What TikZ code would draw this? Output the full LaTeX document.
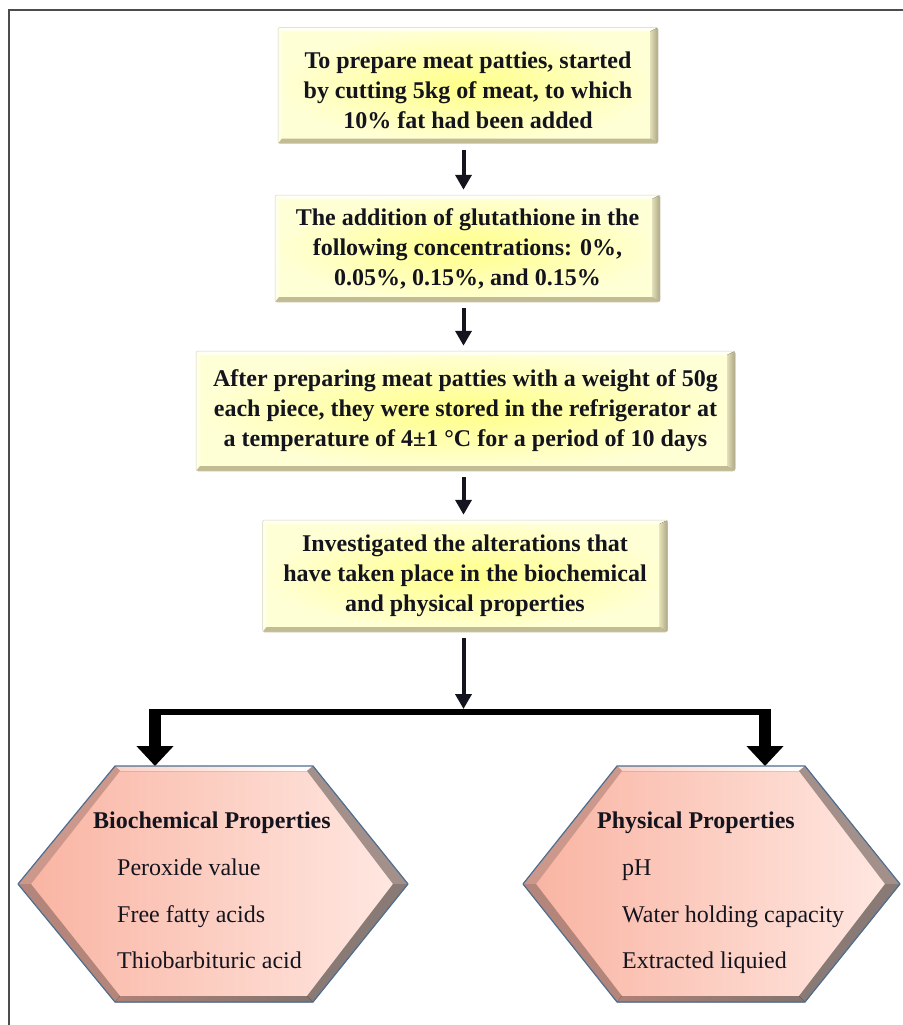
\documentclass[tikz,border=0pt]{standalone}
\usepackage{fontspec}
\setmainfont{Liberation Serif}
\usetikzlibrary{arrows.meta,calc}

\definecolor{txt}{HTML}{14141E}
\definecolor{yin}{HTML}{FFFF88}
\definecolor{yout}{HTML}{FFFFD6}
\definecolor{ybevR}{HTML}{ADA683}
\definecolor{ybevB}{HTML}{C2BC95}
\definecolor{ybevT}{HTML}{FFFFF2}
\definecolor{hexL}{HTML}{F9B3A1}
\definecolor{hexR}{HTML}{FFE9E3}
\definecolor{hexbevL}{HTML}{CD988C}
\definecolor{hexbevR}{HTML}{A3908A}
\definecolor{hexbord}{HTML}{4E6E90}

\newcommand\hexfig[4]{%
  \fill[left color=hexL, right color=hexR] (#1,884) -- (#2,766) -- (#3,766) -- (#4,884) -- (#3,1002) -- (#2,1002) -- cycle;
  \fill[left color=hexL!60!white, right color=white] (#2,766) -- (#3,766) -- (#3-6,771) -- (#2+5,771) -- cycle;
  \fill[hexbevL] (#1,884) -- (#2,766) -- (#2+5,771) -- (#1+13,884) -- cycle;
  \fill[hexbevL!88!black] (#1,884) -- (#2,1002) -- (#2+5,996) -- (#1+13,884) -- cycle;
  \fill[hexbevR] (#3,766) -- (#4,884) -- (#4-15,884) -- (#3-6,771) -- cycle;
  \fill[hexbevR!85!black] (#4,884) -- (#3,1002) -- (#3-6,996) -- (#4-15,884) -- cycle;
  \fill[left color=hexbevL!85!black, right color=hexbevR!80!black] (#2,1002) -- (#3,1002) -- (#3-6,996) -- (#2+5,996) -- cycle;
  \draw[hexbord, line width=1.2pt, line join=round] (#1,884) -- (#2,766) -- (#3,766) -- (#4,884) -- (#3,1002) -- (#2,1002) -- cycle;
}

\tikzset{
  ybox/.style={draw=ybevR!50, line width=0.5pt, rounded corners=2pt,
    inner color=yin, outer color=yout, align=center, inner sep=0pt,
    font=\fontsize{24}{30}\selectfont\bfseries, text=txt,
    path picture={
      \coordinate (pNE) at (path picture bounding box.north east);
      \coordinate (pNW) at (path picture bounding box.north west);
      \coordinate (pSE) at (path picture bounding box.south east);
      \coordinate (pSW) at (path picture bounding box.south west);
      \fill[ybevT, sharp corners] (pNW) -- (pNE) -- ($(pNE)+(-8,4)$) -- ($(pNW)+(4,4)$) -- cycle;
      \fill[ybevT!60!yout, sharp corners] (pNW) -- ($(pNW)+(4,4)$) -- ($(pSW)+(4,-5)$) -- (pSW) -- cycle;
      \fill[left color=ybevR!35!yout, right color=ybevR, sharp corners] (pNE) -- (pSE) -- ($(pSE)+(-8,-5)$) -- ($(pNE)+(-8,4)$) -- cycle;
      \fill[ybevB, sharp corners] (pSW) -- (pSE) -- ($(pSE)+(-8,-5)$) -- ($(pSW)+(4,-5)$) -- cycle;
    }},
  arr/.style={line width=4pt, txt, -{Triangle[width=16pt,length=15pt]}},
  thickarr/.style={line width=12pt, black, -{Triangle[width=36pt,length=20pt]}},
  hexhead/.style={font=\fontsize{24}{28}\selectfont\bfseries, text=txt, anchor=base west, inner sep=0pt},
  hexitem/.style={font=\fontsize{24}{28}\selectfont, text=txt, anchor=base west, inner sep=0pt}
}

\begin{document}
\begin{tikzpicture}[x=1pt,y=-1pt]
\useasboundingbox (0,0) rectangle (902,1025);

% frame (left and top edges)
\coordinate (frBL) at (9,1030);
\coordinate (frTR) at (905,10);
\draw[line width=2pt, black!70] (frBL) |- (frTR);

% process boxes
\node[ybox, minimum width=380pt, minimum height=116pt] (b1) at (468,85.5)
  {\rule{0pt}{27pt}To prepare meat patties, started\\by cutting 5kg of meat, to which\\10\% fat had been added};
\node[ybox, minimum width=385pt, minimum height=107pt] (b2) at (467.5,248.5)
  {The addition of glutathione in the\\following concentrations: 0\%,\\0.05\%, 0.15\%, and 0.15\%};
\node[ybox, minimum width=539pt, minimum height=120pt] (b3) at (465.5,411)
  {After preparing meat patties with a weight of 50g\\each piece, they were stored in the refrigerator at\\a temperature of 4±1 °C for a period of 10 days};
\node[ybox, minimum width=405pt, minimum height=112pt] (b4) at (465,576)
  {Investigated the alterations that\\have taken place in the biochemical\\and physical properties};

% axis of the vertical arrows
\coordinate (ax) at (463.5,0);
\draw[arr, shorten <=6pt, shorten >=5pt] (b1.south -| ax) -- (b2.north -| ax);
\draw[arr, shorten <=6pt, shorten >=5pt] (b2.south -| ax) -- (b3.north -| ax);
\draw[arr, shorten <=6pt, shorten >=5pt] (b3.south -| ax) -- (b4.north -| ax);

% split bar
\coordinate (split) at (463.5,709);
\coordinate (lbar) at (149,712);
\coordinate (rbar) at (771,712);
\coordinate (lstem) at (155,709);
\coordinate (rstem) at (765,709);
\coordinate (biotop) at (155,766);
\coordinate (phytop) at (765,766);
\draw[arr, shorten <=6pt] (b4.south -| ax) -- (split);
\draw[line width=6pt, black] (lbar) -- (rbar);
\draw[thickarr] (lstem) -- (biotop);
\draw[thickarr] (rstem) -- (phytop);

% hexagons
\hexfig{18}{115}{313}{408}
\hexfig{523}{617}{805}{900}

\node[hexhead] (bioh) at (93,828) {Biochemical Properties};
\node[hexitem] (bio1) at (117,875) {Peroxide value};
\node[hexitem] (bio2) at (117,922) {Free fatty acids};
\node[hexitem] (bio3) at (117,968) {Thiobarbituric acid};

\node[hexhead] (phyh) at (597,828) {Physical Properties};
\node[hexitem] (phy1) at (622,875) {pH};
\node[hexitem] (phy2) at (622,922) {Water holding capacity};
\node[hexitem] (phy3) at (622,968) {Extracted liquied};
\end{tikzpicture}
\end{document}
